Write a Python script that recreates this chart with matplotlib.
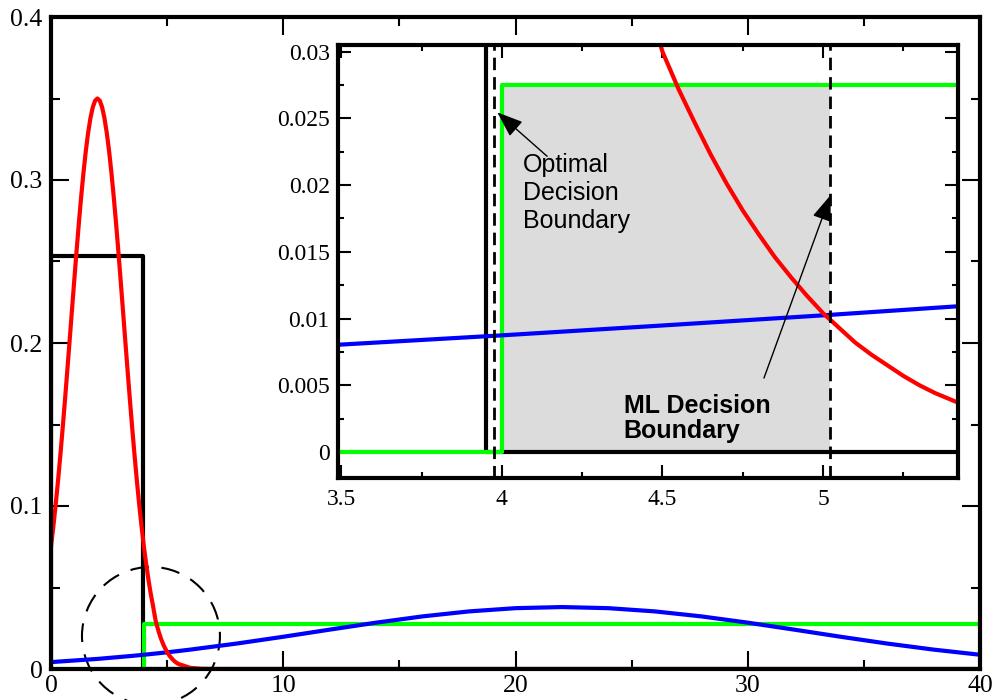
import matplotlib.pyplot as plt
from matplotlib.patches import Ellipse
from matplotlib.ticker import MultipleLocator

# class-conditional densities, values
red_x = [0.0, 0.1, 0.2, 0.3, 0.4, 0.5, 0.6, 0.7, 0.8, 0.9, 1.0, 1.1, 1.2, 1.3, 1.4,
         1.5, 1.6, 1.7, 1.8, 1.9, 2.0, 2.1, 2.2, 2.3, 2.4, 2.5, 2.6, 2.7, 2.8, 2.9,
         3.0, 3.1, 3.2, 3.3, 3.4, 3.5, 3.6, 3.7, 3.8, 3.9, 4.0, 4.1, 4.2, 4.3, 4.4,
         4.5, 4.55, 4.6, 4.65, 4.7, 4.75, 4.8, 4.85, 4.9, 4.95, 5.0, 5.05, 5.1,
         5.15, 5.2, 5.25, 5.3, 5.35, 5.4, 5.45, 5.5, 6.0, 6.5, 7.0, 8.0, 40.0]
red_y = [0.0751, 0.0873, 0.1006, 0.1151, 0.1307, 0.1473, 0.1647, 0.1827, 0.2011,
         0.2197, 0.2382, 0.2563, 0.2736, 0.2899, 0.3047, 0.3179, 0.3291, 0.3381,
         0.3447, 0.3487, 0.35, 0.3487, 0.3447, 0.3381, 0.3291, 0.3179, 0.3047,
         0.2899, 0.2736, 0.2563, 0.2382, 0.2197, 0.2011, 0.1827, 0.1647, 0.1473,
         0.1307, 0.1151, 0.1006, 0.0873, 0.0751, 0.0642, 0.0544, 0.0457, 0.0382,
         0.0300, 0.0272, 0.0247, 0.0223, 0.0201, 0.0181, 0.0163, 0.0146, 0.0131,
         0.0117, 0.0104, 0.0093, 0.0082, 0.0073, 0.0065, 0.0057, 0.0050, 0.0044,
         0.0039, 0.0034, 0.0030, 0.0007, 0.00013, 0.00002, 0.0, 0.0]

blue_x = [0, 2, 3.5, 4, 4.5, 5, 5.5, 6, 8, 10, 12, 14, 16, 18, 20, 22, 24, 26, 28,
          30, 32, 34, 36, 38, 40]
blue_y = [0.00423, 0.00619, 0.00805, 0.00874, 0.00948, 0.01024, 0.01105, 0.0119,
          0.01562, 0.01978, 0.02415, 0.02843, 0.03228, 0.03534, 0.03732, 0.038,
          0.03732, 0.03534, 0.03228, 0.02843, 0.02415, 0.01978, 0.01562, 0.0119,
          0.00874]

green_x = [0, 4.0, 4.0, 45]
green_y = [0, 0, 0.0275, 0.0275]

black_x = [0, 0, 3.95, 3.95, 45]
black_y = [0, 0.2532, 0.2532, 0, 0]

optimal_boundary = 3.975
ml_boundary = 5.02
green_level = 0.0275

main_xticks = [0, 10, 20, 30, 40]
main_xlabels = ["0", "10", "20", "30", "40"]
main_yticks = [0, 0.1, 0.2, 0.3, 0.4]
main_ylabels = ["0", "0.1", "0.2", "0.3", "0.4"]

inset_xticks = [3.5, 4, 4.5, 5]
inset_xlabels = ["3.5", "4", "4.5", "5"]
inset_yticks = [0, 0.005, 0.01, 0.015, 0.02, 0.025, 0.03]
inset_ylabels = ["0", "0.005", "0.01", "0.015", "0.02", "0.025", "0.03"]

serif = "Liberation Serif"
sans = "Liberation Sans"

fig = plt.figure(figsize=(9.94, 7), dpi=100)


def style_axes(a, major, minor, pad_x, pad_y, size):
    for s in a.spines.values():
        s.set_linewidth(3)
    a.tick_params(which="both", direction="in", top=True, right=True, width=1.5,
                  labelsize=size, labelfontfamily=serif)
    a.tick_params(which="major", length=major)
    a.tick_params(which="minor", length=minor)
    a.tick_params(axis="x", pad=pad_x)
    a.tick_params(axis="y", pad=pad_y)


# main plot
ax = fig.add_axes([51 / 994, 31 / 700, 929 / 994, 652 / 700])
ax.plot(black_x, black_y, color="black", lw=3)
ax.plot(green_x, green_y, color="#00ff00", lw=3)
ax.plot(blue_x, blue_y, color="#0000ff", lw=3)
ax.plot(red_x, red_y, color="#ff0000", lw=3)
ax.set_xlim(0, 40)
ax.set_ylim(0, 0.4)
ax.set_xticks(main_xticks)
ax.set_xticklabels(main_xlabels)
ax.set_yticks(main_yticks)
ax.set_yticklabels(main_ylabels)
ax.xaxis.set_minor_locator(MultipleLocator(5))
ax.yaxis.set_minor_locator(MultipleLocator(0.05))
style_axes(ax, 13, 6.5, 4, 6, 18.5)

# dashed circle marking the zoomed region
circ = Ellipse((0.1076, 0.0507), 0.1485, 0.2117, transform=ax.transAxes,
               fill=False, ec="black", lw=1.5, ls=(0, (9, 6)), clip_on=False)
ax.add_patch(circ)

# inset zoom
axin = fig.add_axes([338 / 994, 222 / 700, 620 / 994, 433 / 700])
axin.fill_between([4.0, ml_boundary], 0, green_level, color="#dcdcdc", lw=0)
axin.plot(black_x, black_y, color="black", lw=3)
axin.plot(green_x, green_y, color="#00ff00", lw=3)
axin.plot(blue_x, blue_y, color="#0000ff", lw=3)
axin.plot(red_x, red_y, color="#ff0000", lw=3)
axin.axvline(optimal_boundary, color="black", lw=2, ls=(0, (4.5, 2.5)))
axin.axvline(ml_boundary, color="black", lw=2, ls=(0, (4.5, 2.5)))
axin.set_xlim(3.49, 5.42)
axin.set_ylim(-0.00195, 0.0305)
axin.set_xticks(inset_xticks)
axin.set_xticklabels(inset_xlabels)
axin.set_yticks(inset_yticks)
axin.set_yticklabels(inset_ylabels)
axin.xaxis.set_minor_locator(MultipleLocator(0.25))
axin.yaxis.set_minor_locator(MultipleLocator(0.0025))
style_axes(axin, 9.5, 4.5, 8, 6, 17)

arrow = dict(arrowstyle="-|>,head_length=0.8,head_width=0.3", color="black",
             lw=1, mutation_scale=20, shrinkA=0, shrinkB=0)
axin.annotate("", xy=(3.986, 0.02545), xytext=(4.141, 0.02216), arrowprops=arrow)
axin.text(4.067, 0.02238, "Optimal\nDecision\nBoundary", family=sans, fontsize=18,
          ha="left", va="top", linespacing=1.2)
axin.annotate("", xy=(5.023, 0.01924), xytext=(4.816, 0.00554), arrowprops=arrow)
axin.text(4.379, 0.00434, "ML Decision\nBoundary", family=sans, fontsize=18,
          fontweight="bold", ha="left", va="top", linespacing=1.05)

plt.savefig("out.png", dpi=100)
